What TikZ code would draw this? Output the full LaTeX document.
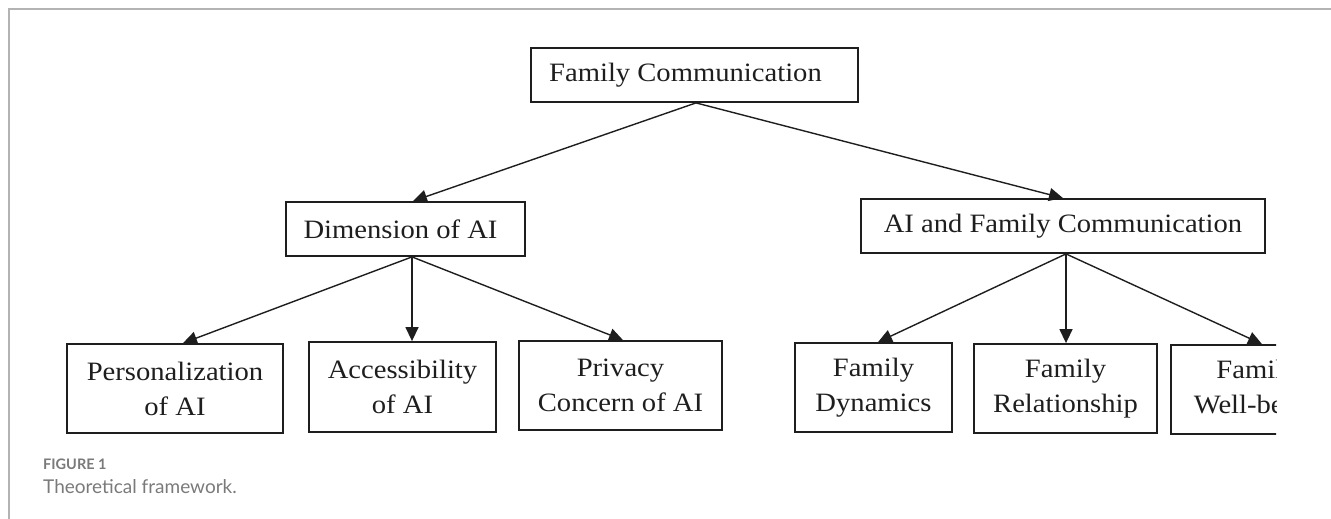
\documentclass[tikz,border=0pt]{standalone}
\usepackage{fontspec}
\setmainfont{Liberation Serif}[FakeStretch=1.08]
\newfontfamily\capfont{Lato}
\usetikzlibrary{arrows.meta}
\definecolor{frameg}{HTML}{B3B3B3}
\definecolor{capg}{HTML}{7A7A7A}
\definecolor{ink}{HTML}{1E1E1E}
\tikzset{
  box/.style={draw=ink, line width=1.8pt, inner sep=0pt, align=center,
    font=\fontsize{26.5}{35}\selectfont, text=ink},
  arr/.style={draw=ink, line width=1.4pt, -{Triangle[length=14pt,width=13pt]}},
}
\begin{document}
\begin{tikzpicture}[x=1pt,y=-1pt]
\useasboundingbox (0,0) rectangle (1331,519);
% frame
\draw[frameg, line width=2.5pt] (9,519) -- (9,9) -- (1331,9);
\begin{scope}
\clip (0,0) rectangle (1276,519);
\node[box, minimum width=327pt, minimum height=54pt] (fc) at (694.5,75) {Family Communication\hspace*{18pt}};
\node[box, minimum width=239pt, minimum height=54pt] (dim) at (405.5,229) {Dimension of AI\hspace*{10pt}};
\node[box, minimum width=404pt, minimum height=54pt] (aifc) at (1063,226) {AI and Family Communication};
\node[box, minimum width=216pt, minimum height=89pt] (pers) at (175,388.5) {Personalization\\of AI};
\node[box, minimum width=187pt, minimum height=90pt] (acc) at (402.5,387) {Accessibility\\of AI};
\node[box, minimum width=203pt, minimum height=89pt] (priv) at (620.5,385.5) {Privacy\\Concern of AI};
\node[box, minimum width=157pt, minimum height=89pt] (dyn) at (873.5,387.5) {Family\\Dynamics};
\node[box, minimum width=183pt, minimum height=89pt] (rel) at (1065.5,388.5) {Family\\Relationship};
\node[box, minimum width=172pt, minimum height=89pt] (well) at (1257,389.5) {Family\\Well-being};
\end{scope}
% connectors
\draw[arr] ([xshift=1.5pt]fc.south) -- ([xshift=7.5pt]dim.north);
\draw[arr] ([xshift=1.5pt]fc.south) -- (aifc.north);
\draw[arr] ([xshift=6.5pt]dim.south) -- ([xshift=8pt]pers.north);
\draw[arr] ([xshift=6.5pt]dim.south) -- ([xshift=9.5pt]acc.north);
\draw[arr] ([xshift=6.5pt]dim.south) -- ([xshift=2.5pt]priv.north);
\draw[arr] ([xshift=3pt]aifc.south) -- ([xshift=4.5pt]dyn.north);
\draw[arr] ([xshift=3pt]aifc.south) -- ([xshift=0.5pt]rel.north);
\draw[arr] ([xshift=3pt]aifc.south) -- ([xshift=5pt]well.north);
% caption
\node[anchor=base west, inner sep=0pt, text=capg, font=\capfont\bfseries\fontsize{14.5}{16}\selectfont] (figlab) at (43,469) {FIGURE 1};
\node[anchor=base west, inner sep=0pt, text=capg, font=\capfont\fontsize{19}{22}\selectfont] (figcap) at (43,493) {Theoretical framework.};
\end{tikzpicture}
\end{document}
